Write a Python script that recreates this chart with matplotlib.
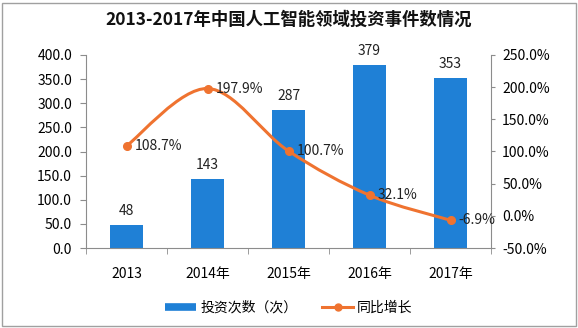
import matplotlib
matplotlib.use("Agg")
import matplotlib.pyplot as plt
from matplotlib.path import Path
from matplotlib.patches import PathPatch, Rectangle
from matplotlib.lines import Line2D
import numpy as np

plt.rcParams['font.family'] = ['Noto Sans CJK SC', 'DejaVu Sans']

title = "2013-2017年中国人工智能领域投资事件数情况"
categories = ["2013", "2014年", "2015年", "2016年", "2017年"]
investments = [48, 143, 287, 379, 353]
growth = [108.7, 197.9, 100.7, 32.1, -6.9]
bar_name = "投资次数（次）"
line_name = "同比增长"

BLUE = "#1F80D6"
ORANGE = "#EF7330"
GRAY = "#8C8C8C"

fig = plt.figure(figsize=(5.78, 3.28), dpi=100)
ax = fig.add_axes([86/578, 1-248/328, (491-86)/578, (248-55)/328])
ax2 = ax.twinx()

x = np.arange(len(categories))
bars = ax.bar(x, investments, width=0.41, color=BLUE, zorder=2)
for xi, v in zip(x, investments):
    ax.annotate(str(v), (xi, v), xytext=(0, 5), textcoords="offset points",
                ha="center", va="bottom", fontsize=10, color="#222222")

ax.set_xlim(-0.5, len(categories) - 0.5)
ax.set_ylim(0, 400)
ax.set_yticks(np.arange(0, 401, 50))
ax.set_yticklabels([f"{t:.1f}" for t in np.arange(0, 401, 50)], fontsize=10)
ax.set_xticks(x)
ax.set_xticklabels(categories, fontsize=10)
ax.set_xticks(np.arange(-0.5, len(categories), 1), minor=True)
ax.tick_params(axis='x', which='major', length=0, pad=14)
ax.tick_params(axis='x', which='minor', length=4, color=GRAY, direction='out')
ax.tick_params(axis='y', length=4, color=GRAY, pad=6)

ax2.set_ylim(-50, 250)
yt2 = np.arange(-50, 251, 50)
ax2.set_yticks(yt2)
ax2.set_yticklabels([f"{t:.1f}%" for t in yt2], fontsize=10)
ax2.tick_params(axis='y', length=3, color=GRAY, pad=5)

for a in (ax, ax2):
    a.spines['top'].set_visible(False)
    for s in ('left', 'right', 'bottom'):
        a.spines[s].set_color(GRAY)
ax2.spines['left'].set_visible(False)
ax2.spines['bottom'].set_visible(False)
ax.spines['right'].set_visible(False)

# smooth curve (Catmull-Rom -> Bezier)
pts = np.column_stack([x.astype(float), np.array(growth, dtype=float)])
ext = np.vstack([pts[0], pts, pts[-1]])
verts = [tuple(pts[0])]
codes = [Path.MOVETO]
for i in range(len(pts) - 1):
    p0, p1, p2, p3 = ext[i], ext[i+1], ext[i+2], ext[i+3]
    c1 = p1 + (p2 - p0) / 6.0
    c2 = p2 - (p3 - p1) / 6.0
    verts += [tuple(c1), tuple(c2), tuple(p2)]
    codes += [Path.CURVE4] * 3
ax2.add_patch(PathPatch(Path(verts, codes), fill=False, edgecolor=ORANGE,
                        lw=2.2, zorder=3, capstyle='round'))
ax2.plot(x, growth, 'o', color=ORANGE, ms=5.5, zorder=4)
for xi, g in zip(x, growth):
    ax2.annotate(f"{g:.1f}%", (xi, g), xytext=(6, 0), textcoords="offset points",
                 ha="left", va="center", fontsize=10, color="#222222",
                 annotation_clip=False, zorder=5)

fig.text(0.5, 1-20/328, title, ha="center", va="center", fontsize=12.5,
         fontweight="bold", color="#111111")

handles = [Line2D([], [], color=BLUE, lw=5.5, solid_capstyle='butt'),
           Line2D([], [], color=ORANGE, lw=2.2, marker='o', ms=5)]
fig.legend(handles, [bar_name, line_name], loc="center", ncol=2,
           bbox_to_anchor=(0.5, 1-308/328), frameon=False, fontsize=10,
           handlelength=2.2, handletextpad=0.3, columnspacing=1.8)

fig.add_artist(Rectangle((1.5/578, 2.5/328), 574/578, 323/328,
                         transform=fig.transFigure, fill=False,
                         edgecolor="#A0A0A0", lw=1))

fig.savefig("out.png", dpi=100)
